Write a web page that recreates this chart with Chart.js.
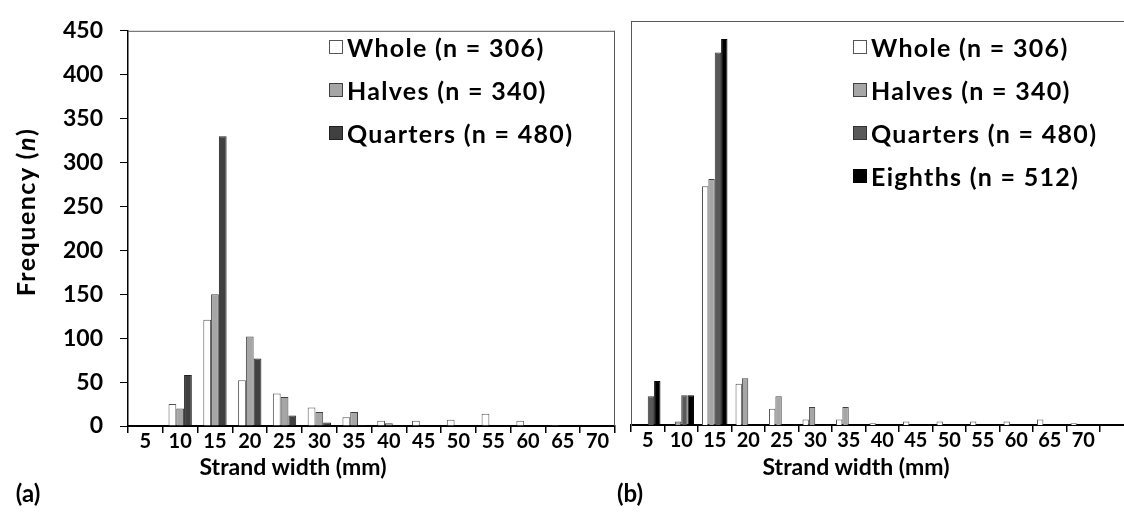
<!DOCTYPE html>
<html>
<head>
<meta charset="utf-8">
<script src="https://cdn.jsdelivr.net/npm/chart.js@4.4.0/dist/chart.umd.min.js"></script>
<style>
  body { margin: 0; background: #fff; }
  #wrap { position: relative; width: 1124px; height: 515px; overflow: hidden;
          font-family: Lato, "Open Sans", sans-serif; font-weight: bold; color: #000; }
  canvas { position: absolute; top: 0; }
  #ca { left: 0; }
  #cb { left: 620px; }
  .lbl { position: absolute; white-space: nowrap; transform: translate(-50%, -50%); }
  .legend { position: absolute; font-size: 25px; letter-spacing: 1.3px; }
  .legend .row { height: 43px; display: flex; align-items: center; }
  .legend .box { width: 14px; height: 14px; border: 1px solid #555; margin-right: 4px; box-sizing: border-box; }
</style>
</head>
<body>
<div id="wrap">
  <canvas id="ca" width="625" height="515"></canvas>
  <canvas id="cb" width="504" height="515"></canvas>
  <div class="legend" id="lega" style="left:329px; top:25px;"></div>
  <div class="legend" id="legb" style="left:853px; top:25px;"></div>
  <div class="lbl" style="left:25px; top:212px; font-size:25px; letter-spacing:1.5px; transform: translate(-50%,-50%) rotate(-90deg);">Frequency (<i>n</i>)</div>
  <div class="lbl" style="left:293px; top:466px; font-size:23px;">Strand width (mm)</div>
  <div class="lbl" style="left:856px; top:466px; font-size:23px;">Strand width (mm)</div>
  <div class="lbl" style="left:28px; top:492px; font-size:24px;">(a)</div>
  <div class="lbl" style="left:630px; top:492px; font-size:24px;">(b)</div>
</div>
<script>
// strand width classes (mm)
const labels = ['5', '10', '15', '20', '25', '30', '35', '40', '45', '50', '55', '60', '65', '70'];
const yTicks = [0, 50, 100, 150, 200, 250, 300, 350, 400, 450];

// panel (a)
const aWhole    = [0, 25, 121, 52, 37, 21, 10, 6, 6, 7, 14, 6, 1, 0];
const aHalves   = [0, 20, 150, 102, 33, 16, 16, 3, 0, 0, 0, 0, 0, 0];
const aQuarters = [0, 58, 330, 77, 12, 4, 1, 0, 0, 0, 0, 0, 0, 0];

// panel (b)
const bWhole    = [0, 0, 266, 46, 18, 6, 6, 2, 4, 4, 4, 4, 6, 2];
const bHalves   = [0, 4, 274, 52, 32, 20, 20, 0, 0, 0, 0, 0, 0, 0];
const bQuarters = [32, 33, 415, 0, 0, 0, 0, 0, 0, 0, 0, 0, 0, 0];
const bEighths  = [49, 33, 430, 0, 0, 0, 0, 0, 0, 0, 0, 0, 0, 0];

const seriesA = [
  {label: 'Whole (n = 306)',    data: aWhole,    bg: '#ffffff', bd: '#555555'},
  {label: 'Halves (n = 340)',   data: aHalves,   bg: '#a6a6a6', bd: '#404040'},
  {label: 'Quarters (n = 480)', data: aQuarters, bg: '#404040', bd: '#222222'}
];
const seriesB = [
  {label: 'Whole (n = 306)',    data: bWhole,    bg: '#ffffff', bd: '#555555'},
  {label: 'Halves (n = 340)',   data: bHalves,   bg: '#a6a6a6', bd: '#404040'},
  {label: 'Quarters (n = 480)', data: bQuarters, bg: '#595959', bd: '#333333'},
  {label: 'Eighths (n = 512)',  data: bEighths,  bg: '#000000', bd: '#000000'}
];

Chart.defaults.color = '#000';
Chart.defaults.font.family = 'Lato, "Open Sans", sans-serif';
Chart.defaults.font.weight = 'bold';

// box around the plot, panel b runs off the right edge
const frame = {
  id: 'frame',
  afterDraw(chart, args, opts) {
    const {ctx, chartArea: a} = chart;
    const right = opts.toEdge ? chart.width : a.right;
    ctx.save();
    ctx.strokeStyle = '#595959';
    ctx.lineWidth = 1;
    ctx.beginPath();
    ctx.moveTo(a.left, a.top + 0.5);
    ctx.lineTo(right, a.top + 0.5);
    if (!opts.toEdge) {
      ctx.moveTo(a.right - 0.5, a.top);
      ctx.lineTo(a.right - 0.5, a.bottom);
    }
    ctx.stroke();
    if (opts.toEdge) {
      ctx.strokeStyle = '#000';
      ctx.lineWidth = 2;
      ctx.beginPath();
      ctx.moveTo(a.right, a.bottom);
      ctx.lineTo(chart.width, a.bottom);
      ctx.stroke();
    }
    ctx.restore();
  }
};

function makeChart(id, series, o) {
  return new Chart(document.getElementById(id), {
    type: 'bar',
    data: {
      labels: labels,
      datasets: series.map(s => ({
        label: s.label,
        data: s.data,
        backgroundColor: s.bg,
        borderColor: s.bd,
        borderWidth: 1,
        borderSkipped: 'bottom',
        categoryPercentage: o.catPct,
        barPercentage: 1
      }))
    },
    options: {
      responsive: false,
      animation: false,
      layout: {padding: {top: o.top, right: o.right, left: 0, bottom: 0}},
      plugins: {legend: {display: false}, tooltip: {enabled: false}, frame: {toEdge: o.toEdge}},
      scales: {
        x: {
          grid: {display: true, drawOnChartArea: false, drawTicks: true, tickLength: 7, color: '#000', lineWidth: 1.5, offset: true},
          border: {display: true, color: '#000', width: 2},
          ticks: {font: {size: 20, lineHeight: 1}, padding: -1, maxRotation: 0, autoSkip: false},
          afterFit: s => { s.height = 515 - o.bottom; }
        },
        y: {
          min: 0, max: 450,
          afterBuildTicks: s => { s.ticks = yTicks.map(v => ({value: v})); },
          grid: {display: o.yLabels, drawOnChartArea: false, drawTicks: o.yLabels, tickLength: 8, color: '#000', lineWidth: 1},
          border: {display: true, color: o.yLabels ? '#000' : '#595959', width: o.yLabels ? 1.5 : 1},
          ticks: {display: o.yLabels, font: {size: 23}, padding: 17},
          afterFit: s => { s.width = o.left; }
        }
      }
    },
    plugins: [frame]
  });
}

makeChart('ca', seriesA, {catPct: 0.67, top: 20, right: 10, bottom: 426, left: 128, yLabels: true, toEdge: false});
makeChart('cb', seriesB, {catPct: 0.76, top: 21, right: 24, bottom: 425, left: 11, yLabels: false, toEdge: true});

function legend(el, series) {
  const box = document.getElementById(el);
  series.forEach(s => {
    const row = document.createElement('div');
    row.className = 'row';
    const sw = document.createElement('span');
    sw.className = 'box';
    sw.style.background = s.bg;
    sw.style.borderColor = s.bd;
    const t = document.createElement('span');
    t.textContent = s.label;
    row.appendChild(sw);
    row.appendChild(t);
    box.appendChild(row);
  });
}
legend('lega', seriesA);
legend('legb', seriesB);
</script>
</body>
</html>
